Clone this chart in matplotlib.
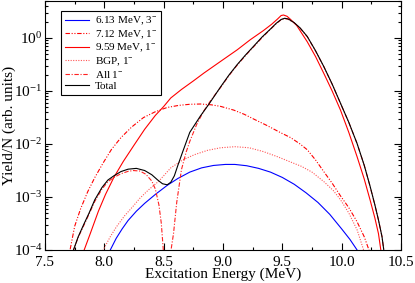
import matplotlib
matplotlib.use("Agg")
import matplotlib.pyplot as plt
from matplotlib.ticker import LogLocator, MultipleLocator, NullFormatter, FormatStrFormatter

plt.rcParams['font.family'] = ['Liberation Serif', 'DejaVu Serif']
plt.rcParams['mathtext.fontset'] = 'custom'
plt.rcParams['mathtext.rm'] = 'Liberation Serif'
plt.rcParams['mathtext.it'] = 'Liberation Serif:italic'
plt.rcParams['mathtext.bf'] = 'Liberation Serif:bold'

# --- data (Excitation energy in MeV, yield in arb. units) ---
e_313 = [8.03, 8.05, 8.10, 8.15, 8.20, 8.27, 8.34, 8.43, 8.53, 8.62, 8.72, 8.82, 8.92, 9.02, 9.10, 9.20, 9.30, 9.40,
         9.50, 9.60, 9.70, 9.80, 9.90, 10.00, 10.07, 10.13, 10.15]
y_313 = [7.9e-5, 1.0e-4, 1.66e-4, 2.5e-4, 3.6e-4, 5.4e-4, 7.6e-4, 1.12e-3, 1.66e-3, 2.24e-3, 2.95e-3, 3.55e-3, 3.94e-3,
         4.12e-3, 4.12e-3, 3.89e-3, 3.47e-3, 2.95e-3, 2.34e-3, 1.74e-3, 1.2e-3, 7.9e-4, 4.7e-4, 2.5e-4, 1.58e-4, 1.0e-4, 7.9e-5]

e_712 = [7.69, 7.711, 7.75, 7.80, 7.86, 7.92, 7.99, 8.06, 8.14, 8.23, 8.33, 8.43, 8.53, 8.63, 8.72, 8.81, 8.90, 8.98,
         9.09, 9.18, 9.26, 9.37, 9.48, 9.57, 9.65, 9.71, 9.78, 9.85, 9.92, 9.99, 10.06, 10.13, 10.19, 10.23, 10.25]
y_712 = [6.3e-5, 1.0e-4, 2.8e-4, 6.0e-4, 1.26e-3, 2.34e-3, 4.4e-3, 7.9e-3, 1.32e-2, 2.09e-2, 3.16e-2, 4.07e-2, 4.9e-2,
         5.37e-2, 5.62e-2, 5.69e-2, 5.5e-2, 5.13e-2, 4.37e-2, 3.63e-2, 2.95e-2, 2.24e-2, 1.66e-2, 1.32e-2, 1.0e-2,
         7.8e-3, 5.0e-3, 3.0e-3, 1.82e-3, 1.05e-3, 6.3e-4, 3.4e-4, 1.78e-4, 1.0e-4, 6.3e-5]

e_959 = [7.80, 7.83, 7.88, 7.95, 8.01, 8.08, 8.16, 8.25, 8.34, 8.43, 8.50, 8.56, 8.65, 8.75, 8.84, 8.98, 9.12, 9.23,
         9.34, 9.41, 9.46, 9.49, 9.51, 9.54, 9.57, 9.62, 9.71, 9.78, 9.85, 9.92, 9.99, 10.06, 10.13, 10.19, 10.24,
         10.28, 10.31, 10.33, 10.34]
y_959 = [6.3e-5, 1.0e-4, 2.0e-4, 5.4e-4, 1.12e-3, 2.34e-3, 4.7e-3, 9.5e-3, 1.9e-2, 3.47e-2, 5.1e-2, 7.4e-2, 0.107, 0.155,
         0.219, 0.363, 0.60, 0.93, 1.38, 1.82, 2.29, 2.66, 2.72, 2.57, 2.24, 1.74, 0.85, 0.447, 0.214, 0.10, 0.0437,
         0.0166, 5.75e-3, 2.19e-3, 8.7e-4, 4.0e-4, 2.04e-4, 1.0e-4, 6.3e-5]

e_bgp = [7.97, 7.99, 8.05, 8.10, 8.17, 8.24, 8.30, 8.37, 8.46, 8.56, 8.66, 8.76, 8.87, 8.98, 9.10, 9.22, 9.34, 9.46,
         9.57, 9.66, 9.75, 9.85, 9.93, 9.99, 10.06, 10.13, 10.185, 10.20]
y_bgp = [7.9e-5, 1.0e-4, 1.78e-4, 2.7e-4, 4.4e-4, 6.6e-4, 9.5e-4, 1.35e-3, 2.0e-3, 3.55e-3, 5.0e-3, 6.3e-3, 7.6e-3,
         8.5e-3, 8.9e-3, 8.5e-3, 7.2e-3, 5.75e-3, 4.57e-3, 3.8e-3, 2.95e-3, 1.95e-3, 1.32e-3, 8.9e-4, 5.0e-4, 2.4e-4,
         1.0e-4, 7.9e-5]

e_all = [7.72, 7.74, 7.78, 7.83, 7.87, 7.92, 7.98, 8.03, 8.08, 8.14, 8.20, 8.245, 8.30, 8.35, 8.40, 8.43, 8.46, 8.48,
         8.497, 8.51, 8.53, 8.55, 8.562, 8.583, 8.61, 8.65, 8.69, 8.72, 8.78, 8.84, 8.90, 8.98, 9.05, 9.12, 9.19, 9.26,
         9.33, 9.40, 9.45, 9.49, 9.52, 9.55, 9.60, 9.65, 9.71, 9.78, 9.85, 9.92, 9.99, 10.06, 10.13, 10.19, 10.24,
         10.28, 10.31, 10.34, 10.355, 10.36]
y_all = [6.3e-5, 1.0e-4, 1.74e-4, 3.0e-4, 4.7e-4, 8.3e-4, 1.41e-3, 1.95e-3, 2.34e-3, 2.75e-3, 3.05e-3, 3.16e-3,
         3.09e-3, 2.69e-3, 2.0e-3, 1.41e-3, 7.1e-4, 3.2e-4, 1.0e-4, 2.5e-5, 1.0e-5, 3.2e-5, 1.0e-4, 2.04e-4, 7.9e-4,
         3.3e-3, 7.1e-3, 1.12e-2, 2.4e-2, 4.27e-2, 6.8e-2, 0.117, 0.195, 0.309, 0.468, 0.692, 1.02, 1.46, 1.88, 2.21,
         2.33, 2.26, 1.93, 1.53, 1.06, 0.57, 0.287, 0.134, 0.0586, 0.0256, 0.0102, 3.96e-3, 1.57e-3, 7.0e-4, 3.7e-4,
         1.78e-4, 1.0e-4, 7.9e-5]

e_tot = [7.72, 7.74, 7.78, 7.83, 7.87, 7.92, 7.98, 8.03, 8.08, 8.14, 8.20, 8.27, 8.34, 8.40, 8.45, 8.49, 8.53, 8.56,
         8.59, 8.62, 8.66, 8.72, 8.81, 8.88, 8.98, 9.05, 9.12, 9.19, 9.26, 9.33, 9.40, 9.45, 9.49, 9.52, 9.55, 9.60,
         9.65, 9.71, 9.78, 9.85, 9.92, 9.99, 10.06, 10.13, 10.19, 10.24, 10.28, 10.31, 10.34, 10.355, 10.36]
y_tot = [7.9e-5, 1.0e-4, 1.78e-4, 3.16e-4, 4.9e-4, 8.9e-4, 1.51e-3, 2.09e-3, 2.51e-3, 3.02e-3, 3.35e-3, 3.47e-3,
         3.16e-3, 2.63e-3, 2.09e-3, 1.78e-3, 1.7e-3, 1.9e-3, 2.51e-3, 3.98e-3, 7.1e-3, 1.66e-2, 3.39e-2, 5.6e-2, 0.12,
         0.20, 0.316, 0.479, 0.708, 1.05, 1.48, 1.91, 2.24, 2.36, 2.29, 1.95, 1.55, 1.07, 0.575, 0.288, 0.135, 0.0589,
         0.0257, 0.0102, 3.98e-3, 1.58e-3, 7.1e-4, 3.7e-4, 1.78e-4, 1.0e-4, 7.9e-5]

labels = ["6.13 MeV, 3$^{-}$", "7.12 MeV, 1$^{-}$", "9.59 MeV, 1$^{-}$", "BGP, 1$^{-}$", "All 1$^{-}$", "Total"]

fig = plt.figure(figsize=(4.15, 2.83), dpi=100)
ax = fig.add_axes([45/415, 33/283, 356/415, 249/283])

lw = 0.8
ax.plot(e_313, y_313, color='#0000ff', lw=lw, label=labels[0])
ax.plot(e_712, y_712, color='#ff0000', lw=lw, ls=(0, (4, 1.5, 1, 1.5, 1, 1.5)), label=labels[1])
ax.plot(e_959, y_959, color='#ff0000', lw=lw, label=labels[2])
ax.plot(e_bgp, y_bgp, color='#ff5555', lw=lw, ls=(0, (1, 1.3)), label=labels[3])
ax.plot(e_all, y_all, color='#ff2222', lw=lw, ls=(0, (4, 1.5, 1, 1.5)), label=labels[4])
ax.plot(e_tot, y_tot, color='#000000', lw=lw, label=labels[5])

ax.set_yscale('log')
ax.set_xlim(7.5, 10.5)
ax.set_ylim(1e-4, 5)
ax.xaxis.set_major_locator(MultipleLocator(0.5))
ax.xaxis.set_minor_locator(MultipleLocator(0.25))
ax.yaxis.set_major_locator(LogLocator(base=10, numticks=10))
ax.yaxis.set_minor_locator(LogLocator(base=10, subs=range(2, 10), numticks=20))
ax.yaxis.set_minor_formatter(NullFormatter())
ax.xaxis.set_major_formatter(FormatStrFormatter('%.1f'))

ax.tick_params(which='both', direction='in', top=True, right=True, labelsize=11, width=0.8, pad=4)
ax.tick_params(axis='y', which='both', pad=2)
ax.tick_params(which='major', length=5)
ax.tick_params(which='minor', length=2.5)
for s in ax.spines.values():
    s.set_linewidth(0.8)

ax.set_xlabel("Excitation Energy (MeV)", fontsize=11, labelpad=-1)
ax.set_ylabel("Yield/N (arb. units)", fontsize=11)
ax.yaxis.set_label_coords(-28.5/356, 0.5)

leg = ax.legend(loc='upper left', bbox_to_anchor=(16/356, 1 - 10/249), fontsize=8,
                frameon=True, fancybox=False, edgecolor='black', framealpha=1,
                handlelength=2.2, handletextpad=0.5, labelspacing=0.1,
                borderpad=0.35, borderaxespad=0)
leg.get_frame().set_linewidth(0.8)

fig.savefig("out.png", dpi=100)
